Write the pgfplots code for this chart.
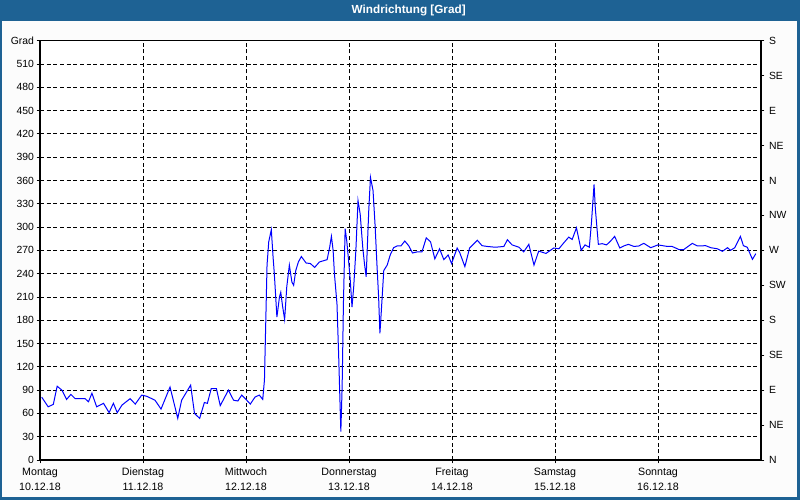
\documentclass[border=0pt]{standalone}
\usepackage{fontspec}
\setmainfont{Liberation Sans}
\usepackage{pgfplots}
\pgfplotsset{compat=1.18}
\definecolor{titleblue}{HTML}{1E6294}
\definecolor{bgwhite}{HTML}{FCFCFC}
\definecolor{wblue}{HTML}{0000FF}

% Windrichtung, x in Stunden ab Montag 0 Uhr
\pgfplotstableread{
h     deg
0.4   81
1.9   68.5
3.1   71.6
4.0   95
5.1   90
6.2   78
7.2   84.5
8.2   79
10.5  79
11.3  75
12.1  86
13.2  68.5
14.8  73
16.1  61
17.1  73
18.0  61
19.1  70.7
21.0  79
22.2  72
23.7  83.6
24.9  82
26.8  77
28.2  65.6
30.3  94
32.1  53.6
33.0  77
35.1  96.4
36.0  60
37.2  53.6
38.3  74
39.0  73
39.9  92
41.1  92
42.0  70
43.9  90
45.1  77
46.1  76
47.0  83.6
48.0  78
49.0  72
50.1  81
51.1  83.6
51.9  78
52.3  103
52.5  152
52.7  201
52.9  251
53.3  281
53.9  296.6
54.3  262
54.6  240
55.2  184
55.8  210
56.1  216
56.5  199
57.0  181
57.5  223
58.1  251
58.7  229
59.1  225
59.6  244
60.2  255
60.9  262
62.0  253.7
63.0  253
64.0  248
65.1  255
66.9  258
67.5  274
67.9  288
68.3  270
68.6  240
69.2  201
69.6  133
70.0  55.7
70.1  36.4
70.4  94
70.7  201
71.1  298
71.5  281
71.9  257
72.3  231
72.7  197
73.1  223
73.6  270
74.1  334
74.6  317
75.2  274
75.6  253
76.0  236
76.6  321
77.0  364
77.6  347
78.1  300
78.5  253
78.9  210
79.2  163
79.5  189
80.1  244
80.9  251
81.6  264
82.4  273.4
83.2  275.6
84.1  275.6
85.0  282
85.9  276
86.8  266.6
87.9  268
89.0  268
90.0  286
91.0  281
92.0  259
93.1  272
94.1  258
95.1  264
95.9  253
97.2  273
97.8  267
99.0  249
100.1 273
101.9 283
103.0 276
104.2 275
106.1 274
108.1 275
108.9 283.7
110.0 277
111.6 274
112.7 268
113.9 277.7
115.1 251
116.2 269
117.9 266
119.7 273
120.9 272
122.1 280
123.2 287
124.0 284
125.0 299
126.1 270
127.0 277
128.0 274
128.5 306
129.1 355
129.4 323.6
130.1 277.7
131.0 278.6
132.0 277
132.9 281.6
133.9 288
135.1 273
136.0 275.6
137.1 277.7
138.4 275
139.5 275.6
140.7 279
142.3 273.4
144.0 277
146.2 275
147.3 275
148.9 271
150.0 271
152.0 279
153.2 275.6
155.1 276
156.3 273.4
157.8 272
159.0 268.7
160.2 273.4
160.9 270
161.9 273.4
163.2 288
163.9 276
164.8 274
166.0 258.4
166.8 265.7
}\winddata

\begin{document}
\begin{tikzpicture}
% Fenster: Hintergrund, Titelleiste, Rahmen
\fill[bgwhite] (0,0) rectangle (600pt,375pt);
\fill[titleblue] (0,359.5pt) rectangle (600pt,375pt);
\fill[titleblue] (0,0) rectangle (1.5pt,375pt);
\fill[titleblue] (597.75pt,0) rectangle (600pt,375pt);
\fill[titleblue] (0,0) rectangle (600pt,2.25pt);
\node[white, font=\bfseries\fontsize{8.8}{10}\selectfont] at (306.5pt,367.3pt) {Windrichtung [Grad]};

\begin{axis}[
  at={(30pt,30pt)}, anchor=south west,
  scale only axis,
  width=540.75pt, height=314.5pt,
  xmin=0, xmax=168,
  ymin=0, ymax=540,
  xtick={0,24,...,144},
  xticklabels={{Montag\\10.12.18},{Dienstag\\11.12.18},{Mittwoch\\12.12.18},
    {Donnerstag\\13.12.18},{Freitag\\14.12.18},{Samstag\\15.12.18},{Sonntag\\16.12.18}},
  xticklabel style={align=center, font=\fontsize{8}{11}\selectfont},
  ytick={0,30,...,540},
  yticklabels={0,30,60,90,120,150,180,210,240,270,300,330,360,390,420,450,480,510,Grad},
  yticklabel style={font=\fontsize{7.8}{9}\selectfont, xshift=1.5pt},
  xtick pos=bottom, ytick pos=left,
  tick align=outside,
  major tick length=2.5pt,
  tick style={black, line width=0.6pt},
  grid=major,
  grid style={black, line width=0.6pt, dash pattern=on 3pt off 2pt},
  axis line style={black, line width=0.9pt},
  axis background/.style={fill=white},
]
\addplot[wblue, line width=0.75pt] table[x=h, y=deg] {\winddata};
\end{axis}

\begin{axis}[
  at={(30pt,30pt)}, anchor=south west,
  scale only axis,
  width=540.75pt, height=314.5pt,
  xmin=0, xmax=168,
  ymin=0, ymax=540,
  axis x line=none,
  axis y line*=right,
  ytick={0,45,...,540},
  yticklabels={N,NE,E,SE,S,SW,W,NW,N,NE,E,SE,S},
  yticklabel style={font=\fontsize{7.8}{9}\selectfont},
  tick align=outside,
  major tick length=2.5pt,
  tick style={black, line width=0.6pt},
  axis line style={black, line width=0.9pt},
]
\end{axis}
\end{tikzpicture}
\end{document}
